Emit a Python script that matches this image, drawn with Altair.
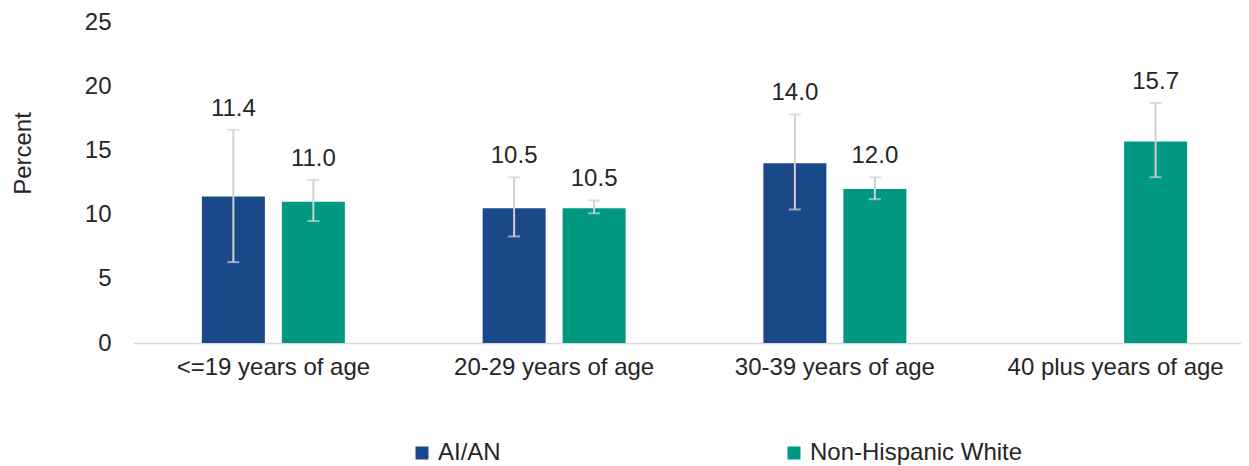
import altair as alt
import pandas as pd

categories = ["<=19 years of age", "20-29 years of age", "30-39 years of age", "40 plus years of age"]
groups = ["AI/AN", "Non-Hispanic White"]

ai_an = [11.4, 10.5, 14.0, None]
ai_an_lo = [6.3, 8.3, 10.4, None]
ai_an_hi = [16.6, 12.9, 17.8, None]

nhw = [11.0, 10.5, 12.0, 15.7]
nhw_lo = [9.5, 10.1, 11.2, 12.9]
nhw_hi = [12.7, 11.1, 12.9, 18.7]

rows = []
for g, vals, los, his in [("AI/AN", ai_an, ai_an_lo, ai_an_hi),
                          ("Non-Hispanic White", nhw, nhw_lo, nhw_hi)]:
    for c, v, lo, hi in zip(categories, vals, los, his):
        if v is None:
            continue
        rows.append({"cat": c, "group": g, "value": v, "lo": lo, "hi": hi,
                     "label": f"{v:.1f}"})
df = pd.DataFrame(rows)

FONT = "Liberation Sans"
TXT = "#262626"
FS = 24

x = alt.X("cat:N", sort=categories,
          scale=alt.Scale(domain=categories, range=[0, 1123], paddingInner=0, paddingOuter=0),
          axis=alt.Axis(title=None, labelAngle=0, labelFontSize=FS, labelFont=FONT,
                        labelColor=TXT, labelPadding=12, ticks=False, domainColor="#d9d9d9",
                        domainWidth=1.5, labelLimit=400))
xo = alt.XOffset("group:N", sort=groups,
                 scale=alt.Scale(domain=groups, paddingInner=0.2125, paddingOuter=0.861))
yscale = alt.Scale(domain=[0, 25])

base = alt.Chart(df)

bars = base.mark_bar().encode(
    x=x, xOffset=xo,
    y=alt.Y("value:Q", scale=yscale,
            axis=alt.Axis(title="Percent", values=[0, 5, 10, 15, 20, 25], grid=False,
                          domain=False, ticks=False, labelFontSize=FS, labelFont=FONT,
                          labelColor=TXT, labelPadding=22, titleFont=FONT,
                          titleFontSize=FS, titleFontWeight="normal", titleColor=TXT,
                          titleX=-103, titleY=131, titleBaseline="alphabetic",
                          titleAlign="center", titleAngle=-90)),
    color=alt.Color("group:N", sort=groups,
                    scale=alt.Scale(domain=groups, range=["#1A4889", "#009881"]),
                    legend=alt.Legend(title=None, orient="none", legendX=277, legendY=419,
                                      direction="horizontal", columns=2, columnPadding=281,
                                      symbolType="square", symbolSize=169,
                                      labelFontSize=FS, labelFont=FONT, labelColor=TXT,
                                      labelOffset=4, padding=0, symbolStrokeWidth=0,
                                      labelLimit=400)),
)

err = base.mark_rule(color="#d0d0d0", strokeWidth=2).encode(
    x=x, xOffset=xo, y=alt.Y("lo:Q", scale=yscale), y2="hi:Q")

cap_hi = base.mark_tick(color="#d0d0d0", thickness=2, size=12, orient="horizontal").encode(
    x=x, xOffset=xo, y=alt.Y("hi:Q", scale=yscale))
cap_lo = base.mark_tick(color="#d0d0d0", thickness=2, size=12, orient="horizontal").encode(
    x=x, xOffset=xo, y=alt.Y("lo:Q", scale=yscale))

labels = base.mark_text(fontSize=FS, font=FONT, color=TXT, dy=-14,
                        baseline="alphabetic").encode(
    x=x, xOffset=xo, y=alt.Y("hi:Q", scale=yscale), text="label:N")

chart = alt.layer(bars, err, cap_hi, cap_lo, labels).properties(
    width=1108, height=321,
    autosize=alt.AutoSizeParams(type="none"),
    padding={"left": 125, "top": 14, "right": 0, "bottom": 124},
).configure_view(stroke=None)

chart.save("out.html", embed_options={"renderer": "svg", "actions": False})
